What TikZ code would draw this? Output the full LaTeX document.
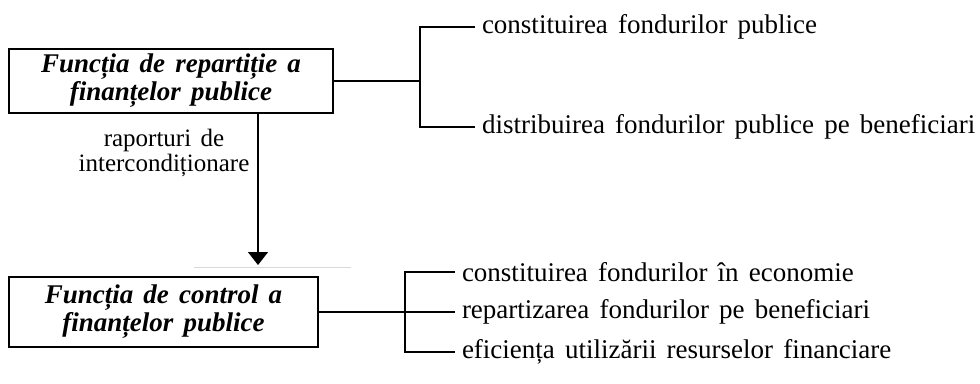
\documentclass[tikz,border=0pt]{standalone}
\usepackage{fontspec}
\setmainfont[WordSpace=1.5]{Liberation Serif}
\usetikzlibrary{arrows.meta,positioning}

\begin{document}
\begin{tikzpicture}[x=1pt, y=-1pt,
           > = {Triangle[length=13pt,width=20pt]},
        line width=2pt,
  func/.style = {draw, line width=2pt, inner sep=0pt, align=center,
                 font=\fontsize{27}{28}\selectfont\bfseries\itshape},% boxes on the left
  item/.style = {anchor=west, inner sep=0pt, outer xsep=7pt,
                 font=\fontsize{27}{30}\selectfont},% texts on the right
  note/.style = {align=center, inner sep=0pt,
                 font=\fontsize{25}{25}\selectfont},% text by the arrow
]
\useasboundingbox (0,0) rectangle (980,383);
% the two functions
\node[func, minimum width=324pt, minimum height=64pt] (rep) at (171,81)
     {Funcția de repartiție a\\ finanțelor publice};
\node[func, minimum width=309pt, minimum height=70pt] (ctl) at (163.5,312)
     {Funcția de control a\\ finanțelor publice};
% joints of the brackets
\coordinate (jr) at (420,81);
\coordinate (jc) at (405,312);
\coordinate (ax) at (258,0);
% texts on the right
\node[item] (r1) at (475,27)  {constituirea fondurilor publice};
\node[item] (r2) at (475,127) {distribuirea fondurilor publice pe beneficiari};
\node[item] (c1) at (455,272) {constituirea fondurilor în economie};
\node[item] (c2) at (455,312) {repartizarea fondurilor pe beneficiari};
\node[item] (c3) at (455,352) {eficiența utilizării resurselor financiare};
% brackets
\draw (rep.east) -- (jr);
\foreach \k in {r1,r2} \draw (jr) |- (\k);
\draw (ctl.east) -- (jc);
\foreach \k in {c1,c2,c3} \draw (jc) |- (\k);
% link between the functions
\draw[->, line width=1.5pt, shorten >=11pt] (rep.south -| ax) -- (ctl.north -| ax);
\node[note] (lbl) at (164,153) {raporturi de\\ intercondiționare};
\draw[black!15, line width=0.8pt] (194,267) -- (351,267);
\end{tikzpicture}
\end{document}
